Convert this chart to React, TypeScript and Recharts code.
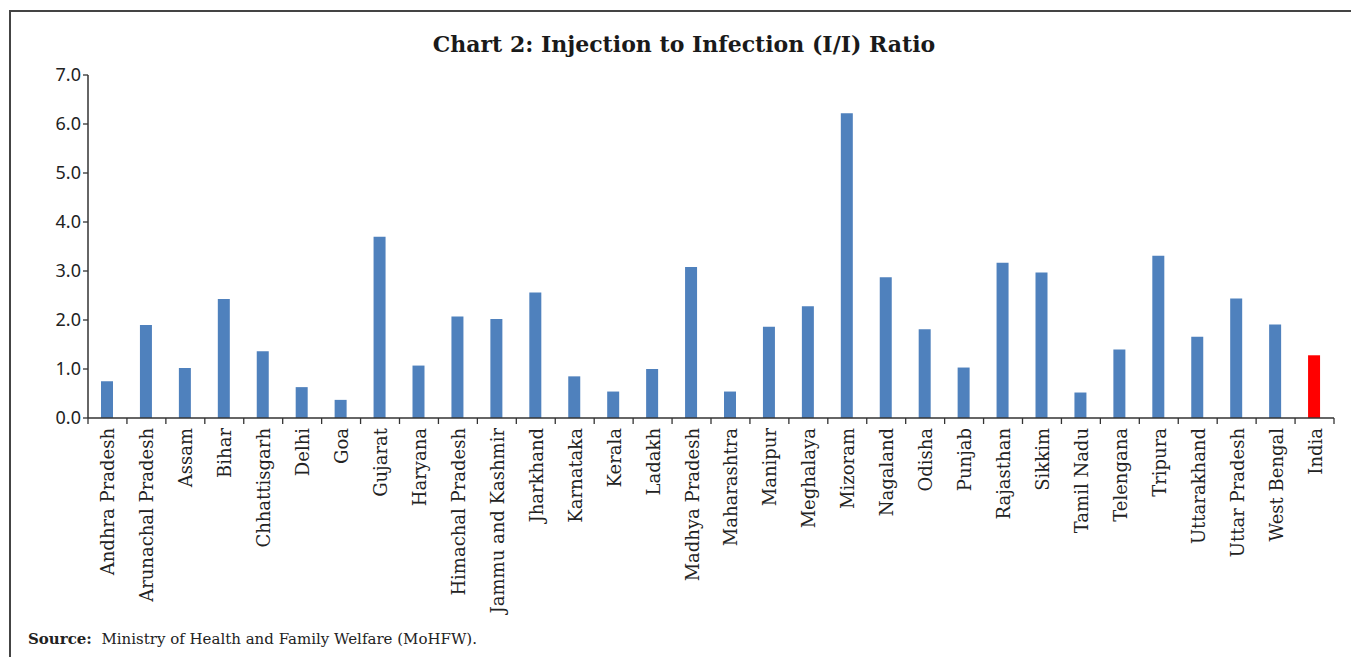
import { Bar, BarChart, Cell, XAxis, YAxis } from "recharts";

const states = [
  "Andhra Pradesh",
  "Arunachal Pradesh",
  "Assam",
  "Bihar",
  "Chhattisgarh",
  "Delhi",
  "Goa",
  "Gujarat",
  "Haryana",
  "Himachal Pradesh",
  "Jammu and Kashmir",
  "Jharkhand",
  "Karnataka",
  "Kerala",
  "Ladakh",
  "Madhya Pradesh",
  "Maharashtra",
  "Manipur",
  "Meghalaya",
  "Mizoram",
  "Nagaland",
  "Odisha",
  "Punjab",
  "Rajasthan",
  "Sikkim",
  "Tamil Nadu",
  "Telengana",
  "Tripura",
  "Uttarakhand",
  "Uttar Pradesh",
  "West Bengal",
  "India",
];

const ratios = [
  0.75, 1.9, 1.02, 2.43, 1.36, 0.63, 0.37, 3.7, 1.07, 2.07, 2.02, 2.56, 0.85,
  0.54, 1.0, 3.08, 0.54, 1.86, 2.28, 6.22, 2.87, 1.81, 1.03, 3.17, 2.97, 0.52,
  1.4, 3.31, 1.66, 2.44, 1.91, 1.28,
];

const yTicks = [0, 1, 2, 3, 4, 5, 6, 7];

const CHART_W = 1351;
const CHART_H = 657;
const Y_AXIS_W = 88;
const MARGIN = { top: 75, right: 17, bottom: 69, left: 0 };
const BAND = (CHART_W - Y_AXIS_W - MARGIN.right) / states.length;

const STATE_COLOR = "#4f81bd";
const INDIA_COLOR = "#ff0000";
const AXIS_COLOR = "#333333";
const TEXT_COLOR = "#222222";
const SERIF = "DejaVu Serif";

const rows = states.map((state, i) => ({ state, ratio: ratios[i] }));

// category labels run bottom-to-top, with tick marks on the band edges
function StateTick({
  x,
  y,
  payload,
  index,
}: {
  x?: number;
  y?: number;
  payload?: { value: string };
  index?: number;
}) {
  const cx = Number(x ?? 0);
  const top = Number(y ?? 0);
  const isLast = index === states.length - 1;
  return (
    <g>
      <line
        x1={cx - BAND / 2}
        x2={cx - BAND / 2}
        y1={top}
        y2={top + 6}
        stroke={AXIS_COLOR}
        strokeWidth={1.3}
      />
      {isLast && (
        <line
          x1={cx + BAND / 2}
          x2={cx + BAND / 2}
          y1={top}
          y2={top + 6}
          stroke={AXIS_COLOR}
          strokeWidth={1.3}
        />
      )}
      <text
        transform={`translate(${cx + 7},${top + 10}) rotate(-90)`}
        textAnchor="end"
        fontFamily={SERIF}
        fontSize={18}
        fill={TEXT_COLOR}
      >
        {payload?.value}
      </text>
    </g>
  );
}

export default function App() {
  return (
    <div
      style={{
        position: "absolute",
        left: 0,
        top: 0,
        width: CHART_W,
        height: CHART_H,
        background: "#fff",
        overflow: "hidden",
      }}
    >
      <div
        style={{
          position: "absolute",
          left: 9,
          top: 10,
          right: 0,
          bottom: 0,
          borderLeft: "2px solid #444",
          borderTop: "2px solid #444",
        }}
      />
      <div
        style={{
          position: "absolute",
          left: 0,
          width: 1368,
          top: 31,
          textAlign: "center",
          fontFamily: SERIF,
          fontWeight: "bold",
          fontSize: 22,
          color: "#1a1a1a",
        }}
      >
        Chart 2: Injection to Infection (I/I) Ratio
      </div>
      <BarChart width={CHART_W} height={CHART_H} data={rows} margin={MARGIN}>
        <XAxis
          dataKey="state"
          interval={0}
          height={170}
          tickSize={0}
          tickMargin={0}
          tickLine={false}
          axisLine={{ stroke: AXIS_COLOR, strokeWidth: 1.5 }}
          tick={(props) => <StateTick {...props} />}
        />
        <YAxis
          width={Y_AXIS_W}
          domain={[0, 7]}
          ticks={yTicks}
          interval={0}
          tickSize={5}
          tickFormatter={(v: number) => v.toFixed(1)}
          axisLine={{ stroke: AXIS_COLOR, strokeWidth: 1.5 }}
          tickLine={{ stroke: AXIS_COLOR, strokeWidth: 1.3 }}
          tick={{
            fill: TEXT_COLOR,
            fontSize: 18,
            fontFamily: "Noto Sans",
          }}
        />
        <Bar dataKey="ratio" barSize={12} isAnimationActive={false}>
          {rows.map((r) => (
            <Cell
              key={r.state}
              fill={r.state === "India" ? INDIA_COLOR : STATE_COLOR}
            />
          ))}
        </Bar>
      </BarChart>
      <div
        style={{
          position: "absolute",
          left: 28,
          top: 630,
          fontFamily: SERIF,
          fontSize: 15,
          color: TEXT_COLOR,
          whiteSpace: "pre",
        }}
      >
        <b>Source:</b>
        {"  Ministry of Health and Family Welfare (MoHFW)."}
      </div>
    </div>
  );
}
